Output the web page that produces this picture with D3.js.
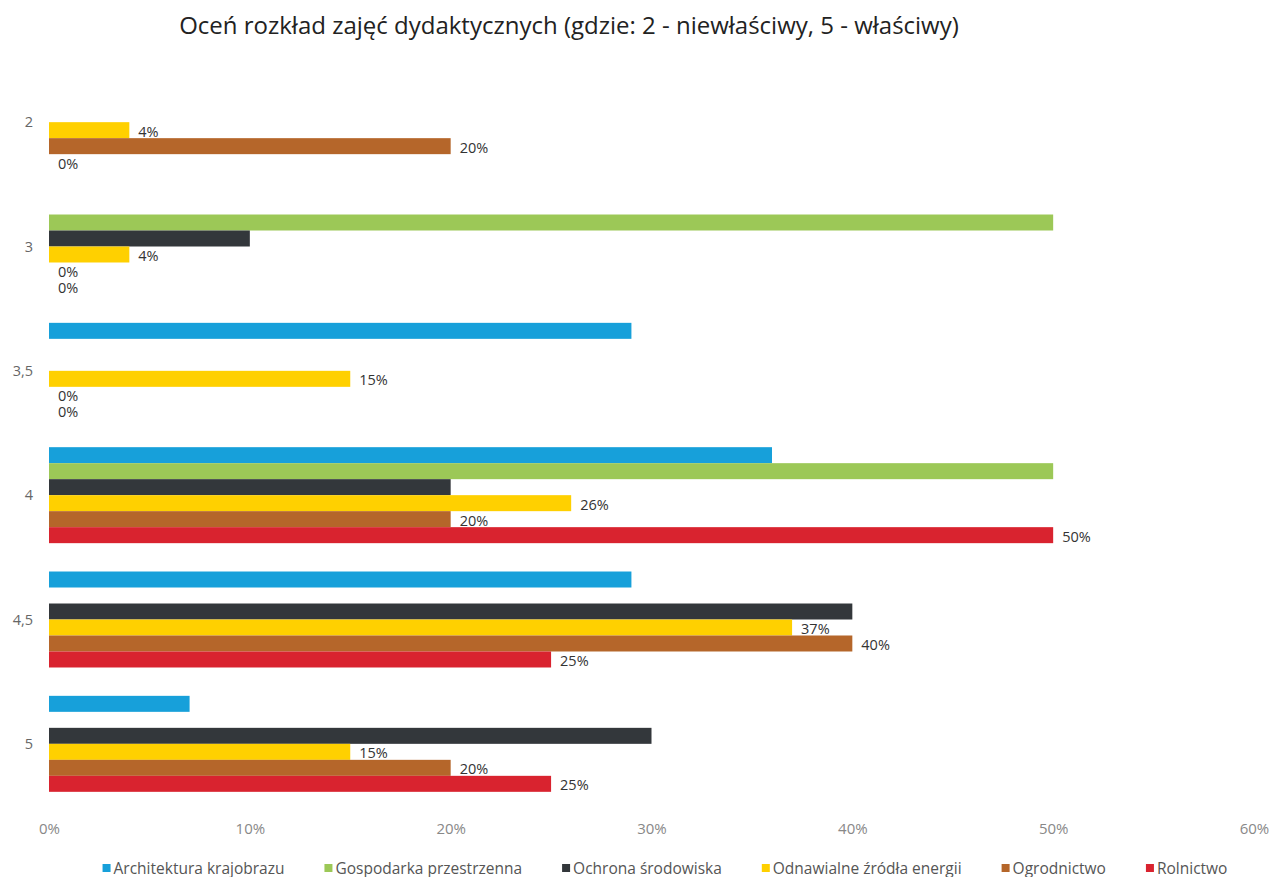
<!DOCTYPE html>
<html lang="pl">
<head>
  <meta charset="UTF-8" />
  <title>Oceń rozkład zajęć dydaktycznych</title>
  <script src="https://cdnjs.cloudflare.com/ajax/libs/d3/7.8.5/d3.min.js"></script>
  <style>
    body {
      margin: 0;
      background: #fff;
      font-family: "Open Sans", sans-serif;
    }
    svg {
      display: block;
    }
  </style>
</head>
<body>
  <svg id="chart" width="1273" height="877"></svg>

  <script>
    // category labels (top to bottom), as printed
    const categories = ["2", "3", "3,5", "4", "4,5", "5"];

    const series = [
      "Architektura krajobrazu",
      "Gospodarka przestrzenna",
      "Ochrona środowiska",
      "Odnawialne źródła energii",
      "Ogrodnictwo",
      "Rolnictwo"
    ];

    const colors = ["#17a0da", "#9cc857", "#33373b", "#ffd000", "#b5662a", "#d9232f"];

    // values per series, one per category (fractions)
    const architektura = [0, 0, 0.29, 0.36, 0.29, 0.07];
    const gospodarka   = [0, 0.50, 0, 0.50, 0, 0];
    const ochrona      = [0, 0.10, 0, 0.20, 0.40, 0.30];
    const odnawialne   = [0.04, 0.04, 0.15, 0.26, 0.37, 0.15];
    const ogrodnictwo  = [0.20, 0, 0, 0.20, 0.40, 0.20];
    const rolnictwo    = [0, 0, 0, 0.50, 0.25, 0.25];

    const values = [architektura, gospodarka, ochrona, odnawialne, ogrodnictwo, rolnictwo];

    // only these series carry data labels in the original
    const labelled = ["Odnawialne źródła energii", "Ogrodnictwo", "Rolnictwo"];

    const xTicks = [0, 0.1, 0.2, 0.3, 0.4, 0.5, 0.6];

    const svg = d3.select("#chart");

    const x = d3.scaleLinear().domain([0, 0.6]).range([49, 1254]);

    const y = d3.scaleBand()
      .domain(categories)
      .range([60, 806])
      .paddingInner(0.228)
      .paddingOuter(0.114);

    const ySub = d3.scaleBand()
      .domain(series)
      .range([0, y.bandwidth()]);

    const color = d3.scaleOrdinal().domain(series).range(colors);

    // title
    svg.append("text")
      .attr("x", 569)
      .attr("y", 34)
      .attr("text-anchor", "middle")
      .attr("font-size", 24)
      .attr("fill", "#222")
      .text("Oceń rozkład zajęć dydaktycznych (gdzie: 2 - niewłaściwy, 5 - właściwy)");

    // flatten into records
    const rows = [];
    categories.forEach((cat, i) => {
      series.forEach((s, j) => {
        rows.push({ cat: cat, series: s, value: values[j][i] });
      });
    });

    // bars
    svg.append("g")
      .selectAll("rect")
      .data(rows)
      .join("rect")
      .attr("x", x(0))
      .attr("y", d => y(d.cat) + ySub(d.series))
      .attr("width", d => x(d.value) - x(0))
      .attr("height", ySub.bandwidth())
      .attr("fill", d => color(d.series));

    // data labels
    svg.append("g")
      .selectAll("text")
      .data(rows.filter(d => labelled.includes(d.series)))
      .join("text")
      .attr("x", d => x(d.value) + 9)
      .attr("y", d => y(d.cat) + ySub(d.series) + ySub.bandwidth() / 2 + 6.5)
      .attr("font-size", 14.5)
      .attr("fill", "#333")
      .text(d => d3.format(".0%")(d.value));

    // category labels
    svg.append("g")
      .selectAll("text")
      .data(categories)
      .join("text")
      .attr("x", 33)
      .attr("y", d => y(d) + y.bandwidth() / 2 + 5)
      .attr("text-anchor", "end")
      .attr("font-size", 14.5)
      .attr("fill", "#666")
      .text(d => d);

    // x axis, labels only
    const xAxis = svg.append("g")
      .attr("transform", "translate(0,806)")
      .call(d3.axisBottom(x)
        .tickValues(xTicks)
        .tickFormat(d3.format(".0%"))
        .tickSize(0)
        .tickPadding(17));
    xAxis.select(".domain").remove();
    xAxis.selectAll("text")
      .attr("font-family", "'Open Sans', sans-serif")
      .attr("font-size", 15)
      .attr("fill", "#888");

    // legend
    const legend = svg.append("g");
    const items = legend.selectAll("g")
      .data(series)
      .join("g");
    items.append("rect")
      .attr("y", -4)
      .attr("width", 8)
      .attr("height", 8)
      .attr("fill", d => color(d));
    items.append("text")
      .attr("x", 11)
      .attr("y", 5.5)
      .attr("font-size", 15.5)
      .attr("fill", "#555")
      .text(d => d);

    let pos = 0;
    const gap = 40;
    items.each(function () {
      const w = 11 + d3.select(this).select("text").node().getComputedTextLength();
      d3.select(this).attr("transform", `translate(${pos},0)`);
      pos += w + gap;
    });
    const total = pos - gap;
    legend.attr("transform", `translate(${665 - total / 2},868)`);
  </script>
</body>
</html>
